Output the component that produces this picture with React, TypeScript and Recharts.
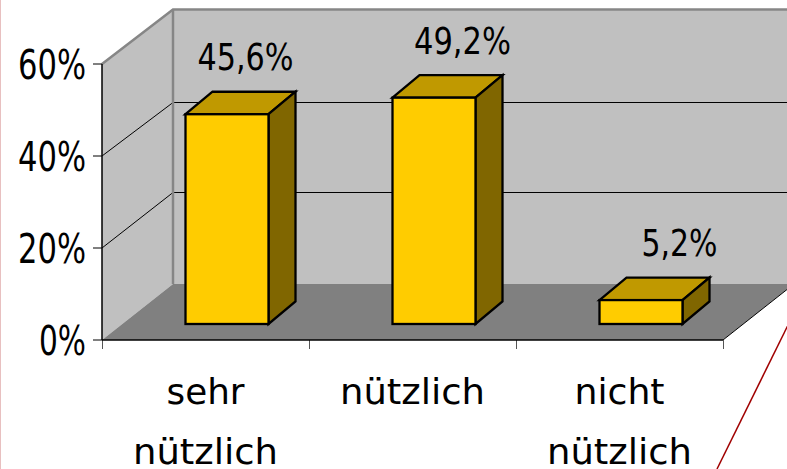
import React from "react";
import { BarChart, Bar, XAxis, YAxis, LabelList, usePlotArea } from "recharts";

const categories = ["sehr nützlich", "nützlich", "nicht nützlich"];
const values = [45.6, 49.2, 5.2];
const valueLabels = ["45,6%", "49,2%", "5,2%"];
const yTicks = [0, 20, 40, 60];
const data = categories.map((name, i) => ({ name, value: values[i], label: valueLabels[i] }));

const FONT = "'DejaVu Sans Condensed', 'DejaVu Sans', sans-serif";
const DEPTH_X = 71;
const DEPTH_Y = 56;
const GRID_DEPTH: Record<number, number> = { 20: 56, 40: 54 };
const TOP_DEPTH = 54.5;
const BAR_DX = 21.5;
const BAR_DY = 16;
const BAR_DEPTH_X = 27;
const BAR_DEPTH_Y = 22.5;

function Walls() {
  const p = usePlotArea();
  if (!p) return null;
  const l = p.x, r = p.x + p.width, b = p.y + p.height, t = p.y;
  const yOf = (v: number) => b - (v / 60) * p.height;
  const pts = (a: number[][]) => a.map((q) => q.join(",")).join(" ");
  return (
    <g>
      <rect x={l + DEPTH_X} y={t - TOP_DEPTH} width={p.width + 20} height={p.height} fill="#c0c0c0" />
      <polygon points={pts([[l, t], [l + DEPTH_X, t - TOP_DEPTH], [l + DEPTH_X, b - DEPTH_Y], [l, b]])} fill="#c0c0c0" />
      <polygon points={pts([[l, b], [r, b], [r + DEPTH_X, b - DEPTH_Y], [l + DEPTH_X, b - DEPTH_Y]])} fill="#808080" />
      <polygon points={pts([[r, b], [r + DEPTH_X, b - DEPTH_Y], [r + DEPTH_X, b + 20], [r, b + 20]])} fill="#ffffff" />
      {yTicks.filter((v) => v > 0 && v < 60).map((v) => {
        const by = Math.round(yOf(v) - GRID_DEPTH[v]) + 0.5;
        return (
          <g key={v} stroke="#000" strokeWidth={1} fill="none">
            <line x1={l} y1={yOf(v)} x2={l + DEPTH_X} y2={by} />
            <line x1={l + DEPTH_X} y1={by} x2={r + DEPTH_X} y2={by} />
          </g>
        );
      })}
      <polyline points={pts([[l, t], [l + DEPTH_X, t - TOP_DEPTH], [r + DEPTH_X, t - TOP_DEPTH]])} fill="none" stroke="#868686" strokeWidth={2.5} />
      <line x1={l + DEPTH_X} y1={t - TOP_DEPTH} x2={l + DEPTH_X} y2={b - DEPTH_Y} stroke="#868686" strokeWidth={2.5} />
      <line x1={r} y1={b} x2={r + DEPTH_X} y2={b - DEPTH_Y} stroke="#000" strokeWidth={1} />
      {[0, 1, 2, 3].map((i) => {
        const x = Math.round(l + (i * p.width) / categories.length) + 0.5;
        return <line key={i} x1={x} y1={b} x2={x} y2={b + 9} stroke="#555" strokeWidth={1} />;
      })}
    </g>
  );
}

function Decoration() {
  return (
    <g>
      <line x1={0.5} y1={0} x2={0.5} y2={469} stroke="#e8c0c0" strokeWidth={1} />
      <line x1={790} y1={321} x2={717} y2={469} stroke="#a00000" strokeWidth={1.5} />
    </g>
  );
}

function Bar3D(props: any) {
  const { x, y, width, height } = props;
  const fx = x + BAR_DX, fy = y - BAR_DY;
  const dx = BAR_DEPTH_X, dy = BAR_DEPTH_Y;
  const common = { stroke: "#000", strokeWidth: 2.3, strokeLinejoin: "miter" as const };
  return (
    <g>
      <polygon points={`${fx},${fy} ${fx + dx},${fy - dy} ${fx + width + dx},${fy - dy} ${fx + width},${fy}`} fill="#c09900" {...common} />
      <polygon points={`${fx + width},${fy} ${fx + width + dx},${fy - dy} ${fx + width + dx},${fy + height - dy} ${fx + width},${fy + height}`} fill="#806600" {...common} />
      <rect x={fx} y={fy} width={width} height={height} fill="#ffcc00" {...common} />
    </g>
  );
}

const LABEL_W: Record<string, number> = { "45,6%": 96, "49,2%": 97, "5,2%": 76 };
function ValueLabel(props: any) {
  const { x, y, width, value, index } = props;
  return (
    <text x={x + width / 2 + 40 + index * 10} y={y - 60} textAnchor="middle" fontFamily={FONT} fontSize={37} fill="#000"
      textLength={LABEL_W[value]} lengthAdjust="spacingAndGlyphs">{value}</text>
  );
}

function YTick(props: any) {
  const { x, y, payload } = props;
  const s = `${payload.value}%`;
  return (
    <text x={x - 5} y={y + 15} textAnchor="end" fontFamily={FONT} fontSize={41} fill="#000"
      textLength={payload.value === 0 ? 47 : 68} lengthAdjust="spacingAndGlyphs">{s}</text>
  );
}

const WORD_W: Record<string, number> = { sehr: 78, "nützlich": 145, nicht: 90 };
function XTick(props: any) {
  const { x, y, payload } = props;
  const words: string[] = String(payload.value).split(" ");
  return (
    <g>
      {words.map((w, i) => (
        <text key={i} x={x} y={y + 56 + i * 60} textAnchor="middle" fontFamily={FONT} fontSize={36} fill="#000"
          textLength={WORD_W[w]} lengthAdjust="spacingAndGlyphs">{w}</text>
      ))}
    </g>
  );
}

export default function App() {
  return (
    <div style={{ position: "absolute", left: 0, top: 0, width: 787, height: 469, overflow: "hidden", background: "#fff" }}>
      <BarChart width={787} height={469} data={data} margin={{ top: 64, right: 64, bottom: 0, left: 0 }} barSize={83}>
        <Walls />
        <XAxis dataKey="name" height={129} interval={0} tick={<XTick />} tickLine={false} axisLine={{ stroke: "#000", strokeWidth: 1.5 }} />
        <YAxis domain={[0, 60]} ticks={yTicks} width={102} tick={<YTick />} tickSize={9} tickLine={{ stroke: "#000" }} axisLine={{ stroke: "#000", strokeWidth: 1.5 }} />
        <Bar dataKey="value" shape={<Bar3D />} isAnimationActive={false}>
          <LabelList dataKey="label" content={<ValueLabel />} />
        </Bar>
        <Decoration />
      </BarChart>
    </div>
  );
}
